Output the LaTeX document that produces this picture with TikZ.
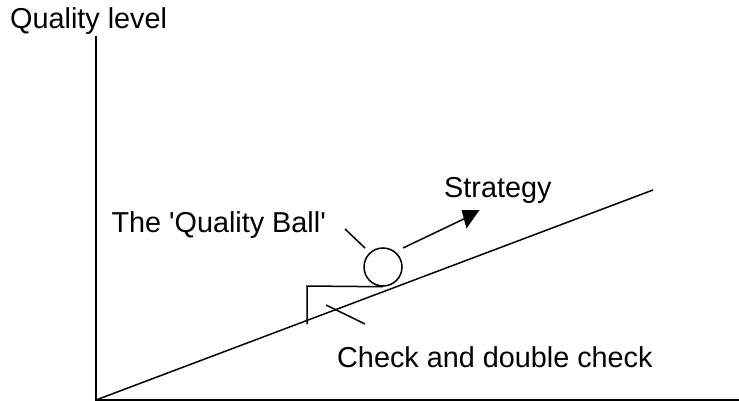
\documentclass[tikz,border=0pt]{standalone}
\usepackage{fontspec}
\setmainfont{Liberation Sans}
\begin{document}
\begin{tikzpicture}[x=1pt,y=-1pt,
    lbl/.style={anchor=base west,inner sep=0pt,font=\fontsize{28.8}{34}\selectfont},
    ln/.style={line width=1.5pt}]
    \useasboundingbox (0,0) rectangle (739,401);
    % Axes
    \coordinate (orig) at (96,400);
    \coordinate (ytop) at (96,36);
    \coordinate (xend) at (739,400);
    \draw[ln] (ytop) -- (orig) -- (xend);
    % Slope
    \coordinate (slopeend) at (653,190);
    \draw[ln] (orig) -- (slopeend);
    % Ball resting on the wedge
    \node[draw,ln,circle,minimum size=38pt,inner sep=0pt] (ball) at (383,267) {};
    \coordinate (wedgetop) at (307,286);
    \coordinate (wedgebot) at (307,324);
    \draw[ln] (ball.south) -- (wedgetop) -- (wedgebot);
    % Labels
    \node[lbl] (qlevel) at (10,29) {Quality level};
    \node[lbl,anchor=base east] (balllbl) at (326,232) {The \textquotesingle Quality Ball\textquotesingle};
    \node[lbl] (strat) at (444,197) {Strategy};
    \node[lbl] (check) at (337,367) {Check and double check};
    % Pointers
    \coordinate (ballptra) at (345,229);
    \coordinate (ballptrb) at (365,248);
    \draw[ln] (ballptra) -- (ballptrb);
    \coordinate (checkptra) at (326,305);
    \coordinate (checkptrb) at (365,324);
    \draw[ln] (checkptra) -- (checkptrb);
    % Strategy arrow (head drawn as a filled triangle)
    \coordinate (stratfrom) at (403,248);
    \coordinate (stratto) at (468,217);
    \draw[ln] (stratfrom) -- (stratto);
    \fill (461.5,210) -- (479.5,210) -- (466.5,228.5) -- cycle;
\end{tikzpicture}
\end{document}
